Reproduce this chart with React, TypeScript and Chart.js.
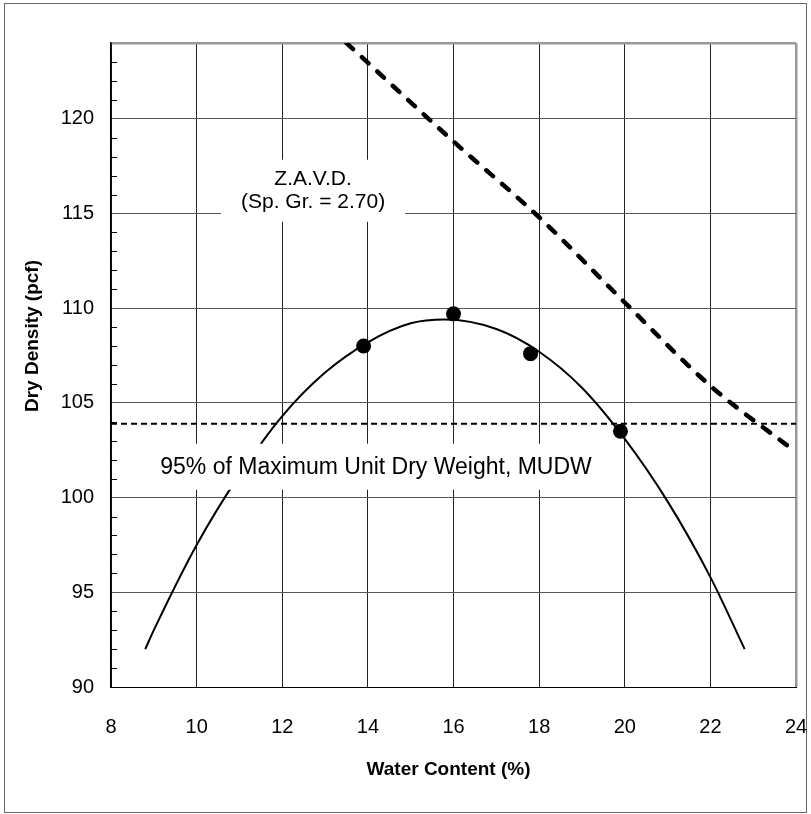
import React, { useEffect, useRef } from 'react';
import { Chart, registerables } from 'chart.js';

Chart.register(...registerables);

// Compaction test points
const pointWater = [13.9, 16.0, 17.8, 19.9];
const pointDensity = [108.0, 109.7, 107.6, 103.5];

// Fitted compaction curve
const curveWater = [8.8, 9, 10, 11, 12, 13, 14, 15, 15.8, 17, 18, 19, 20, 21, 22, 22.8];
const curveDensity = [92.0, 93.0, 97.5, 101.2, 104.3, 106.6, 108.2, 109.2, 109.4, 108.9, 107.7, 105.8, 103.1, 99.8, 95.8, 92.0];

// Zero air voids line (Sp. Gr. = 2.70)
const zavdWater = [13.5, 16, 18, 20, 22, 24];
const zavdDensity = [124, 118.8, 114.8, 110.3, 105.9, 102.4];

// 95% of MUDW line
const mudwWater = [8, 24];
const mudwDensity = [103.9, 103.9];

const xTickLabels = [8, 10, 12, 14, 16, 18, 20, 22, 24];
const yTickLabels = [90, 95, 100, 105, 110, 115, 120];

const xTitle = 'Water Content (%)';
const yTitle = 'Dry Density (pcf)';
const zavdLabel = ['Z.A.V.D.', '(Sp. Gr. = 2.70)'];
const zavdLabelAt = { x: 12.72, y: 116.2 };
const mudwLabel = '95% of Maximum Unit Dry Weight, MUDW';
const mudwLabelAt = { x: 9.15, y: 101.63 };

const FONT = '"Liberation Sans", Arial, sans-serif';

const toXY = (xs: number[], ys: number[]) => xs.map((v, i) => ({ x: v, y: ys[i] }));

const decorPlugin = {
  id: 'decor',
  afterDatasetsDraw(chart: any) {
    const { ctx, chartArea, scales } = chart;
    const x = scales.x;
    const y = scales.y;
    ctx.save();
    // minor tick marks on the value axis (inside)
    ctx.strokeStyle = '#000';
    ctx.lineWidth = 1;
    y.ticks.forEach((t: any) => {
      if (yTickLabels.includes(t.value) || t.value >= y.max) return;
      const py = Math.round(y.getPixelForValue(t.value)) + 0.5;
      ctx.beginPath();
      ctx.moveTo(chartArea.left, py);
      ctx.lineTo(chartArea.left + 6, py);
      ctx.stroke();
    });

    // Z.A.V.D. text box
    ctx.font = `21px ${FONT}`;
    ctx.textAlign = 'center';
    ctx.textBaseline = 'middle';
    const zx = x.getPixelForValue(zavdLabelAt.x);
    const zy = y.getPixelForValue(zavdLabelAt.y);
    const zw = Math.max(...zavdLabel.map((s) => ctx.measureText(s).width));
    const lineH = 23;
    ctx.fillStyle = '#fff';
    ctx.fillRect(zx - zw / 2 - 20, zy - lineH - 8, zw + 40, lineH * 2 + 16);
    ctx.fillStyle = '#000';
    zavdLabel.forEach((s, i) => ctx.fillText(s, zx, zy - lineH / 2 + i * lineH));

    // 95% MUDW text box
    ctx.font = `23px ${FONT}`;
    ctx.textAlign = 'left';
    const mx = x.getPixelForValue(mudwLabelAt.x);
    const my = y.getPixelForValue(mudwLabelAt.y);
    const mw = ctx.measureText(mudwLabel).width;
    ctx.fillStyle = '#fff';
    ctx.fillRect(mx - 8, my - 23, mw + 16, 46);
    ctx.fillStyle = '#000';
    ctx.fillText(mudwLabel, mx, my + 1);

    // axis titles
    ctx.font = `bold 19px ${FONT}`;
    ctx.textAlign = 'center';
    ctx.textBaseline = 'middle';
    ctx.fillText(xTitle, (chartArea.left + chartArea.right) / 2 - 5, 770);
    ctx.save();
    ctx.translate(33, (chartArea.top + chartArea.bottom) / 2 - 29);
    ctx.rotate(-Math.PI / 2);
    ctx.fillText(yTitle, 0, 0);
    ctx.restore();
    ctx.restore();
  },
};

export default function App() {
  const canvasRef = useRef<HTMLCanvasElement | null>(null);

  useEffect(() => {
    if (!canvasRef.current) return;
    const chart = new Chart(canvasRef.current, {
      type: 'scatter',
      data: {
        datasets: [
          {
            data: toXY(zavdWater, zavdDensity),
            showLine: true,
            borderColor: '#000',
            borderWidth: 4.5,
            borderDash: [9, 12],
            borderCapStyle: 'round',
            cubicInterpolationMode: 'monotone',
            pointRadius: 0,
            fill: false,
          },
          {
            data: toXY(mudwWater, mudwDensity),
            showLine: true,
            borderColor: '#000',
            borderWidth: 2,
            borderDash: [6, 4],
            pointRadius: 0,
            fill: false,
          },
          {
            data: toXY(curveWater, curveDensity),
            showLine: true,
            borderColor: '#000',
            borderWidth: 2,
            cubicInterpolationMode: 'monotone',
            pointRadius: 0,
            fill: false,
          },
          {
            data: toXY(pointWater, pointDensity),
            showLine: false,
            pointRadius: 7.5,
            pointBackgroundColor: '#000',
            pointBorderColor: '#000',
            pointBorderWidth: 0,
          },
        ],
      },
      options: {
        animation: false,
        responsive: false,
        layout: { padding: { top: 43, right: 15, left: 0, bottom: 0 } },
        plugins: { legend: { display: false }, tooltip: { enabled: false } },
        scales: {
          x: {
            type: 'linear',
            min: xTickLabels[0],
            max: xTickLabels[xTickLabels.length - 1],
            afterBuildTicks: (s: any) => {
              s.ticks = xTickLabels.map((v) => ({ value: v }));
            },
            afterFit: (s: any) => {
              s.height = 127;
              s.paddingLeft = 0;
              s.paddingRight = 0;
            },
            ticks: {
              color: '#000',
              font: { family: FONT, size: 20 },
              padding: 28,
              maxRotation: 0,
              autoSkip: false,
            },
            grid: {
              drawTicks: false,
              color: (c: any) => (c.tick && c.tick.value === 24 ? '#999' : '#222'),
              lineWidth: (c: any) => (c.tick && c.tick.value === 24 ? 2.5 : 1),
            },
            border: { color: '#000', width: 1 },
            title: { display: false },
          },
          y: {
            type: 'linear',
            min: 90,
            max: 124,
            afterBuildTicks: (s: any) => {
              const t: any[] = [];
              for (let v = s.min; v <= s.max; v += 1) t.push({ value: v });
              s.ticks = t;
            },
            afterFit: (s: any) => {
              s.width = 111;
              s.paddingTop = 0;
              s.paddingBottom = 0;
            },
            ticks: {
              color: '#000',
              font: { family: FONT, size: 20 },
              padding: 17,
              autoSkip: false,
              callback: (v: any) => (yTickLabels.includes(v) ? String(v) : ''),
            },
            grid: {
              drawTicks: false,
              color: (c: any) => {
                const v = c.tick && c.tick.value;
                if (v === 124) return '#999';
                return yTickLabels.includes(v) ? '#555' : 'rgba(0,0,0,0)';
              },
              lineWidth: (c: any) => (c.tick && c.tick.value === 124 ? 2.5 : 1),
            },
            border: { color: '#000', width: 1.5 },
            title: { display: false },
          },
        },
      },
      plugins: [decorPlugin],
    } as any);
    return () => chart.destroy();
  }, []);

  return (
    <div style={{ position: 'fixed', left: 0, top: 0, width: 811, height: 814, background: '#fff' }}>
      <div
        style={{
          position: 'absolute',
          left: 4,
          top: 3,
          width: 803,
          height: 810,
          boxSizing: 'border-box',
          border: '1.5px solid #666',
          pointerEvents: 'none',
        }}
      />
      <canvas ref={canvasRef} width={811} height={814} style={{ position: 'absolute', left: 0, top: 0 }} />
    </div>
  );
}
